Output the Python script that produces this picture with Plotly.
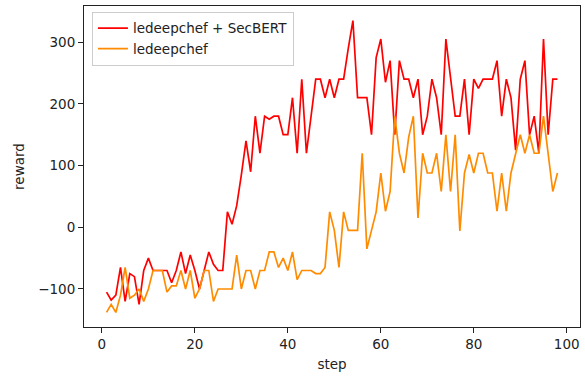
import plotly.graph_objects as go

steps = list(range(1, 99))

secbert = [
    -105, -118, -110, -65, -120, -75, -80, -125, -70, -50,
    -70, -70, -70, -70, -90, -70, -40, -75, -45, -70,
    -100, -70, -40, -60, -70, -70, 25, 5, 35, 85,
    140, 90, 180, 120, 180, 175, 180, 180, 150, 150,
    210, 120, 240, 120, 180, 240, 240, 210, 240, 210,
    240, 240, 290, 335, 210, 210, 210, 150, 275, 305,
    235, 270, 150, 270, 240, 240, 210, 240, 150, 180,
    240, 210, 150, 305, 240, 180, 180, 240, 150, 240,
    225, 240, 240, 240, 270, 180, 240, 210, 125, 240,
    270, 150, 180, 120, 305, 150, 240, 240,
]

ledeepchef = [
    -138, -125, -138, -110, -65, -115, -110, -100, -120, -100,
    -70, -70, -70, -105, -95, -95, -70, -100, -70, -115,
    -100, -70, -70, -120, -100, -100, -100, -100, -45, -100,
    -70, -70, -100, -70, -70, -40, -40, -65, -50, -70,
    -40, -85, -70, -70, -70, -75, -75, -65, 25, -5,
    -65, 25, -5, -5, -5, 120, -35, -5, 25, 88,
    26, 58, 180, 120, 88, 146, 180, 15, 120, 88,
    88, 120, 58, 150, 58, 150, -6, 88, 118, 88,
    120, 120, 88, 88, 26, 88, 26, 88, 120, 150,
    120, 150, 120, 120, 180, 120, 58, 88,
]

series_names = ["ledeepchef + SecBERT", "ledeepchef"]
series_colors = ["#ff0000", "#ff8c00"]

fig = go.Figure()
for name, vals, col in zip(series_names, [secbert, ledeepchef], series_colors):
    fig.add_trace(go.Scatter(x=steps, y=vals, mode="lines", name=name,
                             line=dict(color=col, width=1.7)))

FS = 13.5
axis_common = dict(
    showgrid=False, zeroline=False, showline=True, linecolor="#222",
    linewidth=1, mirror=True, ticks="outside", ticklen=5, tickcolor="#222",
    tickfont=dict(size=FS, color="#222"), automargin=False,
)

fig.update_layout(
    width=585, height=376,
    margin=dict(l=84, r=5, t=6, b=49, autoexpand=False),
    paper_bgcolor="white", plot_bgcolor="white",
    font=dict(family="DejaVu Sans", size=FS, color="#222"),
    xaxis=dict(range=[-3.85, 102.85], tickvals=[0, 20, 40, 60, 80, 100],
               title=dict(text="step", standoff=8, font=dict(size=FS)), **axis_common),
    yaxis=dict(range=[-161.6, 358.6], tickvals=[-100, 0, 100, 200, 300],
               tickformat="d",
               title=dict(text="reward", standoff=10, font=dict(size=FS)), **axis_common),
    legend=dict(x=0.016, y=0.982, xanchor="left", yanchor="top",
                bgcolor="rgba(255,255,255,0.8)", bordercolor="#ccc", borderwidth=1,
                font=dict(size=FS, color="#222"), itemwidth=30,
                tracegroupgap=0),
    showlegend=True,
)

fig.write_html("out.html",
               config={"displayModeBar": False},
               post_script="document.body.style.margin='0px';document.body.style.padding='0px';")
